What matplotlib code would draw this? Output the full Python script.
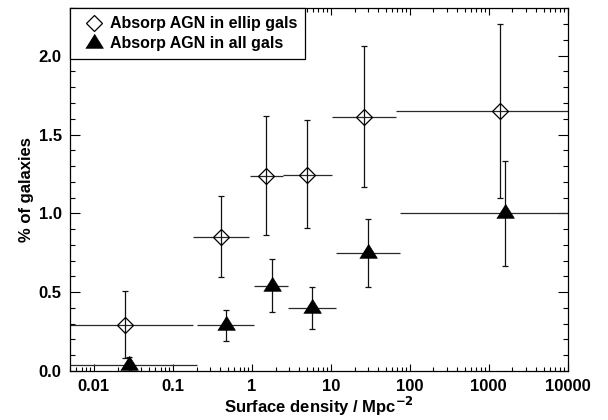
import matplotlib
matplotlib.use("Agg")
import matplotlib.pyplot as plt
import numpy as np
from matplotlib.ticker import MultipleLocator, LogLocator, FixedLocator, FuncFormatter

plt.rcParams['font.family'] = ['Liberation Sans', 'DejaVu Sans']
plt.rcParams['font.weight'] = 'bold'

# Absorbed AGN in elliptical galaxies (open diamonds)
ell_x = [0.025, 0.41, 1.5, 5.0, 26.0, 1400.0]
ell_xlo = [0.001, 0.18, 0.95, 2.5, 10.3, 67.0]
ell_xhi = [0.18, 0.93, 2.5, 10.3, 67.0, 20000.0]
ell_y = [0.29, 0.85, 1.24, 1.245, 1.61, 1.65]
ell_ylo = [0.08, 0.595, 0.865, 0.905, 1.165, 1.10]
ell_yhi = [0.51, 1.11, 1.615, 1.595, 2.06, 2.20]

# Absorbed AGN in all galaxies (filled triangles)
all_x = [0.028, 0.47, 1.8, 5.8, 30.0, 1600.0]
all_xlo = [0.001, 0.20, 1.07, 2.9, 11.7, 75.0]
all_xhi = [0.20, 1.07, 2.9, 11.7, 75.0, 20000.0]
all_y = [0.04, 0.29, 0.54, 0.40, 0.75, 1.0]
all_ylo = [-0.01, 0.19, 0.375, 0.265, 0.53, 0.665]
all_yhi = [0.091, 0.385, 0.71, 0.53, 0.965, 1.335]

labels = ["Absorp AGN in ellip gals", "Absorp AGN in all gals"]
xticks = [0.01, 0.1, 1, 10, 100, 1000, 10000]

tri = [(-0.5, -0.27), (0.5, -0.27), (0.0, 0.53)]

fig = plt.figure(figsize=(6.08, 4.2), dpi=100)
ax = fig.add_axes([0.1151, 0.1167, 0.8186, 0.8633])

for x, y, xlo, xhi, ylo, yhi in [(ell_x, ell_y, ell_xlo, ell_xhi, ell_ylo, ell_yhi),
                                  (all_x, all_y, all_xlo, all_xhi, all_ylo, all_yhi)]:
    x = np.array(x); y = np.array(y)
    xerr = [x - np.array(xlo), np.array(xhi) - x]
    yerr = [y - np.array(ylo), np.array(yhi) - y]
    ax.errorbar(x, y, xerr=xerr, fmt='none', ecolor='#2a2a2a', elinewidth=0.9, capsize=0)
    ax.errorbar(x, y, yerr=yerr, fmt='none', ecolor='#111111', elinewidth=0.9,
                capsize=2.5, capthick=0.9)

ax.plot(ell_x, ell_y, ls='none', marker='D', ms=8, mfc='none', mec='black',
        mew=0.9, label=labels[0])
ax.plot(all_x, all_y, ls='none', marker=tri, ms=13.5, mfc='black', mec='black',
        mew=0.5, label=labels[1])

ax.set_xscale('log')
ax.set_xlim(0.005, 10000)
ax.set_ylim(0, 2.3)

ax.xaxis.set_major_locator(FixedLocator(xticks))
ax.xaxis.set_major_formatter(FuncFormatter(lambda v, p: '%g' % v))
ax.xaxis.set_minor_locator(LogLocator(base=10, subs=np.arange(2, 10), numticks=20))
ax.yaxis.set_major_locator(MultipleLocator(0.5))
ax.yaxis.set_minor_locator(MultipleLocator(0.1))
ax.yaxis.set_major_formatter(FuncFormatter(lambda v, p: '%.1f' % v))

ax.tick_params(which='both', direction='in', top=True, right=True, width=0.8,
               labelsize=12, colors='black')
ax.tick_params(axis='x', which='major', length=5, pad=6)
ax.tick_params(axis='x', which='minor', length=2.8)
ax.tick_params(axis='y', which='major', length=7.5, pad=6)
ax.tick_params(axis='y', which='minor', length=3.5)
for s in ax.spines.values():
    s.set_linewidth(0.9)

ax.set_xlabel('Surface density / Mpc$^{\\mathbf{-2}}$', fontsize=12, fontweight='bold', labelpad=0.5)
ax.set_ylabel('% of galaxies', fontsize=12, fontweight='bold', labelpad=3)

leg = ax.legend(loc='upper left', bbox_to_anchor=(0, 1), borderaxespad=0,
                fancybox=False, edgecolor='black', framealpha=1,
                handlelength=2.0, handletextpad=0.0, borderpad=0.5,
                labelspacing=0.3, prop={'size': 11.5, 'weight': 'bold'})
leg.get_frame().set_linewidth(0.9)

fig.savefig('out.png', dpi=100)
